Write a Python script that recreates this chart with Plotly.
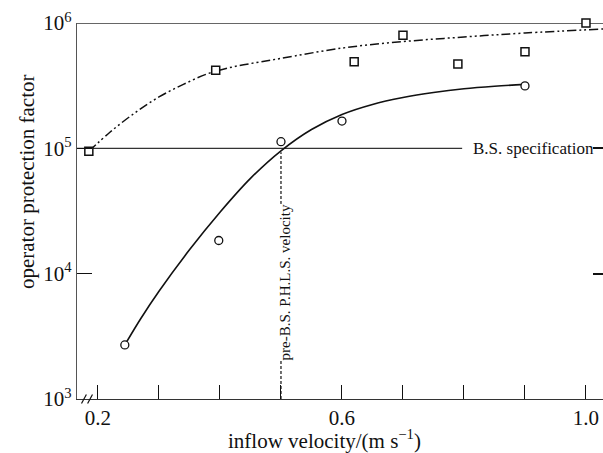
import plotly.graph_objects as go

# ---- data ----
square_x = [0.185, 0.393, 0.62, 0.70, 0.79, 0.90, 1.00]
square_y = [9.5e4, 4.2e5, 4.9e5, 8.0e5, 4.7e5, 5.9e5, 1.0e6]

circle_x = [0.244, 0.398, 0.50, 0.60, 0.90]
circle_y = [2.7e3, 1.84e4, 1.13e5, 1.65e5, 3.15e5]

solid_curve_x = [0.244, 0.27, 0.30, 0.35, 0.40, 0.45, 0.50, 0.55, 0.60,
                 0.65, 0.70, 0.75, 0.80, 0.85, 0.90]
solid_curve_y = [2.70e3, 4.37e3, 7.24e3, 1.549e4, 3.09e4, 5.754e4, 9.55e4, 1.413e5, 1.862e5,
                 2.239e5, 2.541e5, 2.786e5, 2.985e5, 3.126e5, 3.236e5]

dashdot_curve_x = [0.185, 0.22, 0.26, 0.30, 0.34, 0.38, 0.42, 0.46, 0.50,
                   0.60, 0.70, 0.80, 0.90, 1.028]
dashdot_curve_y = [9.46e4, 1.35e5, 1.91e5, 2.57e5, 3.24e5, 3.94e5, 4.45e5, 4.84e5, 5.22e5,
                   6.31e5, 7.11e5, 7.73e5, 8.32e5, 8.95e5]

bs_spec_value = 1e5
bs_line_x = [0.1656, 0.797]
phls_velocity = 0.5

x_range = [0.1656, 1.0279]
y_range_log = [3, 6]
x_tickvals = [0.2, 0.3, 0.4, 0.5, 0.6, 0.7, 0.8, 0.9, 1.0]
x_ticktext = ["0.2", "", "", "", "0.6", "", "", "", "1.0"]
y_tickvals = [1e3, 1e4, 1e5, 1e6]
y_ticktext = ["10<sup>3</sup>", "10<sup>4</sup>", "10<sup>5</sup>", "10<sup>6</sup>"]

FONT = "Liberation Serif"
INK = "#111111"

fig = go.Figure()

# B.S. specification line
fig.add_trace(go.Scatter(x=bs_line_x, y=[bs_spec_value, bs_spec_value], mode="lines",
                         line=dict(color="#333333", width=1.3), hoverinfo="skip", showlegend=False))
# top line at 10^6
fig.add_trace(go.Scatter(x=x_range, y=[1e6, 1e6], mode="lines",
                         line=dict(color="#333333", width=1.3), hoverinfo="skip", showlegend=False))
# pre-B.S. velocity dashed line
fig.add_trace(go.Scatter(x=[phls_velocity, phls_velocity], y=[1e3, bs_spec_value * 0.93], mode="lines",
                         line=dict(color=INK, width=1.2, dash="3px,2px"), hoverinfo="skip", showlegend=False))
# fitted curves
fig.add_trace(go.Scatter(x=dashdot_curve_x, y=dashdot_curve_y, mode="lines",
                         line=dict(color=INK, width=1.5, shape="spline",
                                   dash="9px,3px,2px,3px,2px,3px"),
                         hoverinfo="skip", showlegend=False))
fig.add_trace(go.Scatter(x=solid_curve_x, y=solid_curve_y, mode="lines",
                         line=dict(color=INK, width=1.6, shape="spline"),
                         hoverinfo="skip", showlegend=False))
# markers
fig.add_trace(go.Scatter(x=square_x, y=square_y, mode="markers",
                         marker=dict(symbol="square", size=8, color="white",
                                     line=dict(color=INK, width=1.5)),
                         showlegend=False, cliponaxis=False))
fig.add_trace(go.Scatter(x=circle_x, y=circle_y, mode="markers",
                         marker=dict(symbol="circle", size=8, color="white",
                                     line=dict(color=INK, width=1.3)),
                         showlegend=False, cliponaxis=False))
# invisible trace for right-hand mirrored ticks
fig.add_trace(go.Scatter(x=[x_range[0]], y=[1e3], yaxis="y2", mode="markers",
                         marker=dict(opacity=0), hoverinfo="skip", showlegend=False))

# annotations
fig.add_annotation(x=0.797, y=5.0, xref="x", yref="y", text="B.S. specification",
                   showarrow=False, xanchor="left", yanchor="middle", xshift=9,
                   font=dict(family=FONT, size=17, color=INK))
fig.add_annotation(x=phls_velocity, y=3.93, xref="x", yref="y",
                   text="pre-B.S. P.H.L.S. velocity", textangle=-90, showarrow=False,
                   bgcolor="white", xshift=4, borderpad=0,
                   font=dict(family=FONT, size=15, color=INK))
# axis titles
fig.add_annotation(x=0.4696, y=-0.109, xref="paper", yref="paper",
                   text="inflow velocity/(m s<sup>\u22121</sup>)", showarrow=False,
                   xanchor="center", yanchor="middle",
                   font=dict(family=FONT, size=21, color=INK))
fig.add_annotation(x=-0.095, y=0.577, xref="paper", yref="paper",
                   text="operator protection factor", showarrow=False, textangle=-90,
                   xanchor="center", yanchor="middle",
                   font=dict(family=FONT, size=21, color=INK))

# axis break marks
for dx in [-0.006, 0.004]:
    fig.add_shape(type="line", xref="x", yref="paper",
                  x0=0.183 + dx - 0.004, y0=-0.012, x1=0.183 + dx + 0.004, y1=0.012,
                  line=dict(color=INK, width=1.2))

fig.update_layout(
    width=603, height=453,
    margin=dict(l=77, r=0, t=23, b=54, autoexpand=False),
    paper_bgcolor="white", plot_bgcolor="white",
    font=dict(family=FONT, color=INK),
    xaxis=dict(range=x_range, tickvals=x_tickvals, ticktext=x_ticktext,
               ticks="inside", ticklen=14, tickwidth=1.3, tickcolor=INK,
               showline=True, linecolor="#333333", linewidth=1.3,
               showgrid=False, zeroline=False, automargin=False,
               tickfont=dict(family=FONT, size=21, color=INK)),
    yaxis=dict(type="log", range=y_range_log, tickvals=y_tickvals, ticktext=y_ticktext,
               ticks="inside", ticklen=15, tickwidth=1.3, tickcolor=INK,
               showline=True, linecolor="#555555", linewidth=1.3,
               showgrid=False, zeroline=False, automargin=False,
               tickfont=dict(family=FONT, size=21, color=INK)),
    yaxis2=dict(type="log", range=y_range_log, tickvals=y_tickvals, overlaying="y",
                side="right", anchor="x", ticks="inside", ticklen=10, tickwidth=1.5,
                tickcolor=INK, showline=False, showgrid=False, zeroline=False,
                showticklabels=False, automargin=False),
)

# remove the default page margin so the 603x453 figure fills the window exactly
fig.write_html("out.html", config={"displayModeBar": False},
               post_script="document.body.style.margin='0';document.body.style.overflow='hidden';")
